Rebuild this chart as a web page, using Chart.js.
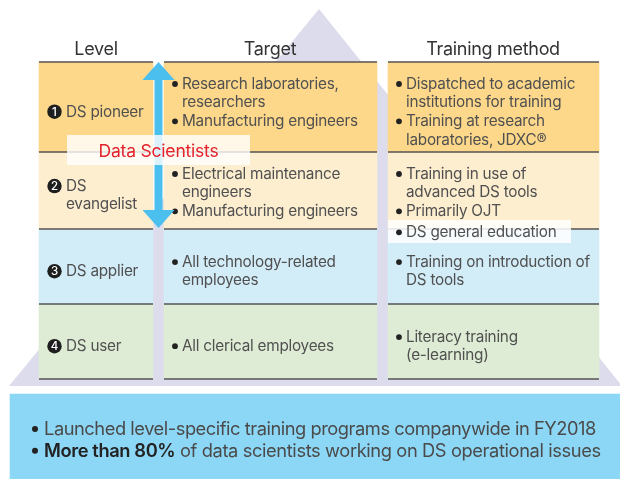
<!DOCTYPE html>
<html>
<head>
<meta charset="utf-8">
<script src="https://cdn.jsdelivr.net/npm/chart.js@4.4.1/dist/chart.umd.min.js"></script>
<style>
  html, body { margin: 0; padding: 0; background: #fff; }
  #wrap { width: 620px; height: 479px; }
</style>
</head>
<body>
<div id="wrap"><canvas id="chart"></canvas></div>
<script>
// Inhalte der Tabelle
const headers = ['Level', 'Target', 'Training method'];
const levels = [['DS pioneer'], ['DS', 'evangelist'], ['DS applier'], ['DS user']];
const targets = [
    [['Research laboratories,', 'researchers'], ['Manufacturing engineers']],
    [['Electrical maintenance', 'engineers'], ['Manufacturing engineers']],
    [['All technology-related', 'employees']],
    [['All clerical employees']]
];
const methods = [
    [['Dispatched to academic', 'institutions for training'], ['Training at research', 'laboratories, JDXC®']],
    [['Training in use of', 'advanced DS tools'], ['Primarily OJT']],
    [['Training on introduction of', 'DS tools']],
    [['Literacy training', '(e-learning)']]
];
const highlightText = 'DS general education';
const arrowLabel = 'Data Scientists';
const summaryBold = ['', 'More than 80%'];
const summaryText = ['Launched level-specific training programs companywide in FY2018',
                     ' of data scientists working on DS operational issues'];

// Layout (Pixel-Raster 620 x 479)
const colEdges = [[39, 153], [164, 377], [388, 599]];
const rowEdges = [62, 152, 229, 304, 379];
const rowColors = ['#fdd88b', '#fdeed0', '#d2ecf8', '#dfecd5'];
const summaryBox = { x: [10, 620], y: [394, 479] };
const pyramid = [[9, 386], [319, 9], [622, 386]];

const FONT = 'Inter, "Noto Sans", sans-serif';
const LH = 18.3;
const CELL_FONT = `400 15.3px ${FONT}`;
const CELL_SPACING = '-0.25px';
const TEXT_COLOR = '#505050';

function drawBullet(ctx, x, y, r) {
    ctx.beginPath();
    ctx.arc(x, y, r, 0, Math.PI * 2);
    ctx.fillStyle = '#222';
    ctx.fill();
}

// Blocks: Liste von Aufzählungspunkten, jeder mit Zeilen
function blockHeight(items) {
    let n = 0;
    items.forEach(it => n += it.length);
    return (n - 1) * LH + (items.length - 1) * 0.7;
}

function drawItems(ctx, items, x, firstBase) {
    let y = firstBase;
    items.forEach(lines => {
        drawBullet(ctx, x + 11, y - 5, 2.9);
        lines.forEach(line => {
            ctx.fillStyle = TEXT_COLOR;
            ctx.fillText(line, x + 18, y);
            y += LH;
        });
        y += 0.7;
    });
}

const tablePlugin = {
    id: 'tablePlugin',
    beforeDatasetsDraw(chart) {
        const { ctx, scales: { x, y } } = chart;
        // Pyramide im Hintergrund
        ctx.save();
        ctx.beginPath();
        pyramid.forEach(([px, py], i) => {
            if (i === 0) ctx.moveTo(x.getPixelForValue(px), y.getPixelForValue(py));
            else ctx.lineTo(x.getPixelForValue(px), y.getPixelForValue(py));
        });
        ctx.closePath();
        ctx.fillStyle = '#dcdcec';
        ctx.fill();
        ctx.restore();
    },
    afterDatasetsDraw(chart) {
        const { ctx, scales: { x, y } } = chart;
        const X = v => x.getPixelForValue(v);
        const Y = v => y.getPixelForValue(v);
        ctx.save();

        // Überschriften
        ctx.font = `400 18px ${FONT}`;
        ctx.letterSpacing = '-0.3px';
        ctx.fillStyle = '#333';
        ctx.textAlign = 'center';
        ctx.textBaseline = 'alphabetic';
        const headerCenters = [96, 270, 493];
        headers.forEach((h, i) => ctx.fillText(h, X(headerCenters[i]), Y(55)));

        // Trennlinien
        ctx.strokeStyle = '#555';
        ctx.lineWidth = 1.6;
        rowEdges.forEach(re => {
            colEdges.forEach(([l, r]) => {
                ctx.beginPath();
                ctx.moveTo(X(l), Y(re));
                ctx.lineTo(X(r), Y(re));
                ctx.stroke();
            });
        });

        // Zelltexte
        ctx.textAlign = 'left';
        ctx.letterSpacing = CELL_SPACING;
        levels.forEach((lv, r) => {
            const top = rowEdges[r], bottom = rowEdges[r + 1];
            const center = (top + bottom) / 2;

            // Level-Spalte, vertikal zentriert
            const lvBase = center - (lv.length - 1) * LH / 2 + 9.7;
            const cx = colEdges[0][0] + 15.5;
            ctx.beginPath();
            ctx.arc(X(cx), Y(lvBase - 5), 7.2, 0, Math.PI * 2);
            ctx.fillStyle = '#1e1e1e';
            ctx.fill();
            ctx.fillStyle = '#fff';
            ctx.font = `500 11.5px ${FONT}`;
            ctx.textAlign = 'center';
            ctx.letterSpacing = '0px';
            ctx.fillText(String(r + 1), X(cx), Y(lvBase - 0.9));
            ctx.textAlign = 'left';
            ctx.letterSpacing = CELL_SPACING;
            ctx.font = CELL_FONT;
            ctx.fillStyle = TEXT_COLOR;
            lv.forEach((line, i) => ctx.fillText(line, X(colEdges[0][0] + 27), Y(lvBase + i * LH)));

            [targets[r], methods[r]].forEach((items, c) => {
                let base;
                if (r < 2) base = top + 27;
                else base = center - blockHeight(items) / 2 + 9.7;
                drawItems(ctx, items, X(colEdges[c + 1][0]), Y(base));
            });
        });

        // Hervorgehobene Zeile "DS general education"
        ctx.fillStyle = 'rgba(255,255,255,0.85)';
        ctx.fillRect(X(388), Y(220), X(571) - X(388), Y(243) - Y(220));
        drawItems(ctx, [[highlightText]], X(colEdges[2][0]), Y(237.3));

        // Doppelpfeil
        const ax = 158.5, aTop = 62, aBot = 228;
        ctx.fillStyle = '#4bbfee';
        ctx.fillRect(X(ax - 4), Y(aTop + 16), X(ax + 4) - X(ax - 4), Y(aBot - 16) - Y(aTop + 16));
        ctx.beginPath();
        ctx.moveTo(X(ax), Y(aTop));
        ctx.lineTo(X(ax + 16), Y(aTop + 18));
        ctx.lineTo(X(ax - 16), Y(aTop + 18));
        ctx.closePath();
        ctx.fill();
        ctx.beginPath();
        ctx.moveTo(X(ax), Y(aBot));
        ctx.lineTo(X(ax + 16), Y(aBot - 18));
        ctx.lineTo(X(ax - 16), Y(aBot - 18));
        ctx.closePath();
        ctx.fill();

        // Beschriftung "Data Scientists"
        ctx.fillStyle = 'rgba(255,255,255,0.8)';
        ctx.fillRect(X(67), Y(135), X(250) - X(67), Y(165) - Y(135));
        ctx.fillStyle = '#e5212b';
        ctx.font = `400 17.5px ${FONT}`;
        ctx.letterSpacing = '-0.2px';
        ctx.textAlign = 'center';
        ctx.fillText(arrowLabel, X(158.5), Y(156.5));

        // Zusammenfassung, Laufweite an die Zielbreite angepasst
        ctx.textAlign = 'left';
        const sumBases = [435, 456.7];
        const sumWidths = [552, 557];
        summaryText.forEach((t, i) => {
            ctx.letterSpacing = '0px';
            ctx.font = `600 18.3px ${FONT}`;
            const wb = summaryBold[i] ? ctx.measureText(summaryBold[i]).width : 0;
            ctx.font = `400 18.3px ${FONT}`;
            const wt = ctx.measureText(t).width;
            const chars = summaryBold[i].length + t.length;
            const ls = (sumWidths[i] - wb - wt) / chars;
            ctx.letterSpacing = ls.toFixed(2) + 'px';

            drawBullet(ctx, X(35), Y(sumBases[i] - 6), 3);
            let sx = X(44);
            if (summaryBold[i]) {
                ctx.font = `600 18.3px ${FONT}`;
                ctx.fillStyle = '#222';
                ctx.fillText(summaryBold[i], sx, Y(sumBases[i]));
                sx += ctx.measureText(summaryBold[i]).width;
            }
            ctx.font = `400 18.3px ${FONT}`;
            ctx.fillStyle = '#4a4a4a';
            ctx.fillText(t, sx, Y(sumBases[i]));
        });
        ctx.restore();
    }
};

// Zellen als schwebende Balken
const datasets = levels.map((_, r) => ({
    data: colEdges.map(([l, rr]) => ({ x: [l, rr], y: (rowEdges[r] + rowEdges[r + 1]) / 2 })),
    backgroundColor: rowColors[r],
    barThickness: rowEdges[r + 1] - rowEdges[r],
    grouped: false
}));
datasets.push({
    data: [{ x: summaryBox.x, y: (summaryBox.y[0] + summaryBox.y[1]) / 2 }],
    backgroundColor: '#8dd7f6',
    barThickness: summaryBox.y[1] - summaryBox.y[0],
    grouped: false
});

new Chart(document.getElementById('chart'), {
    type: 'bar',
    data: { datasets: datasets },
    options: {
        indexAxis: 'y',
        responsive: true,
        maintainAspectRatio: false,
        animation: false,
        layout: { padding: 0 },
        plugins: { legend: { display: false }, tooltip: { enabled: false } },
        scales: {
            x: { type: 'linear', min: 0, max: 620, display: false, offset: false },
            y: { type: 'linear', min: 0, max: 479, reverse: true, display: false, offset: false }
        }
    },
    plugins: [tablePlugin]
});
</script>
</body>
</html>
